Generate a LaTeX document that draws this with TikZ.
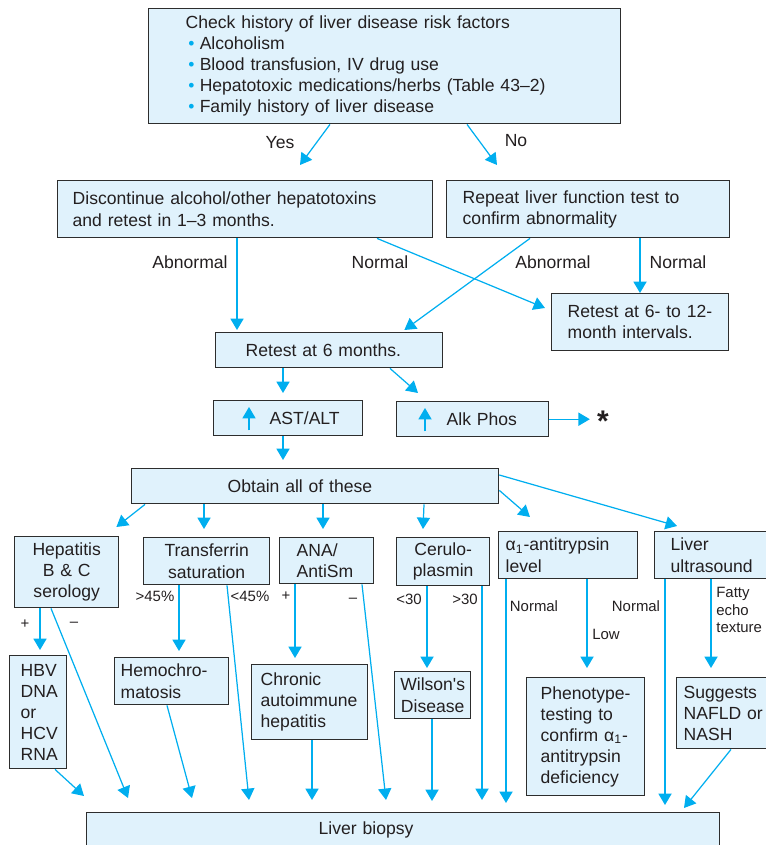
\documentclass[tikz,border=0pt]{standalone}
\usepackage{fontspec}
\setmainfont{Liberation Sans}
\usepackage{xcolor}
\usepackage{tikz}
\usetikzlibrary{arrows.meta,positioning,calc}

\definecolor{boxfill}{RGB}{224,242,252}
\definecolor{arrowblue}{RGB}{0,174,239}
\definecolor{boxline}{RGB}{45,45,45}
\definecolor{txt}{RGB}{35,31,32}
\newcommand{\bul}{\hspace*{1.5pt}\textcolor{arrowblue}{\textbullet}\hspace{3pt}}

\begin{document}
\begin{tikzpicture}[
    x=0.02cm, y=-0.02cm,
    box/.style={draw=boxline, fill=boxfill, line width=0.8pt, anchor=north west, inner ysep=0pt, text=txt, font=\fontsize{10}{12}\selectfont},
    lbox/.style={box, align=left},
    cbox/.style={box, align=center},
    lab/.style={inner sep=0pt, text=txt, font=\fontsize{10}{12}\selectfont},
    slab/.style={inner sep=0pt, text=txt, font=\fontsize{8.5}{10}\selectfont},
    arr/.style={draw=arrowblue, line width=0.7pt, -{Triangle[length=6.5pt,width=7.5pt]}}
]
\useasboundingbox (0,0) rectangle (766,845);

% Top
\node[lbox, minimum width=9.44cm, minimum height=2.3cm, text width=7.96cm, inner xsep=0.74cm] (top) at (148,8)
  {Check history of liver disease risk factors\\
   \bul Alcoholism\\
   \bul Blood transfusion, IV drug use\\
   \bul Hepatotoxic medications/herbs (Table 43--2)\\
   \bul Family history of liver disease};

% Second row
\node[lbox, minimum width=7.5cm, minimum height=1.14cm, text width=6.9cm, inner xsep=0.3cm] (disc) at (57,180)
  {Discontinue alcohol/other hepatotoxins\\and retest in 1--3 months.};
\node[lbox, minimum width=5.66cm, minimum height=1.14cm, text width=5.02cm, inner xsep=0.32cm] (rep) at (446,180)
  {Repeat liver function test to\\confirm abnormality};
\node[lbox, minimum width=3.54cm, minimum height=1.14cm, text width=2.9cm, inner xsep=0.32cm] (intv) at (551,293)
  {Retest~at~6-~to~12-\\month~intervals.};
\node[lbox, minimum width=4.54cm, minimum height=0.7cm, text width=3.34cm, inner xsep=0.6cm] (ret6) at (215,332)
  {Retest~at~6~months.};

% Enzymes
\node[lbox, minimum width=2.98cm, minimum height=0.7cm, text width=0.74cm, inner xsep=1.12cm] (ast) at (213,400) {AST/ALT};
\node[lbox, minimum width=3.04cm, minimum height=0.7cm, text width=1.04cm, inner xsep=1.0cm] (alk) at (396,401) {Alk~Phos};
\node[inner sep=0pt, text=txt, font=\bfseries\fontsize{17}{17}\selectfont] (star) at (603,421) {*};
\node[lbox, minimum width=7.34cm, minimum height=0.7cm, text width=3.5cm, inner xsep=1.92cm] (obt) at (131,468) {Obtain~all~of~these};

% Tests
\node[cbox, minimum width=2.08cm, minimum height=1.42cm, text width=1.8cm, inner xsep=0.14cm] (hep) at (14,536) {Hepatitis\\B~\&~C\\serology};
\node[cbox, minimum width=2.52cm, minimum height=0.94cm, text width=2.24cm, inner xsep=0.14cm] (trans) at (143,537) {Transferrin\\saturation};
\node[lbox, minimum width=1.88cm, minimum height=0.92cm, text width=1.2cm, inner xsep=0.34cm] (ana) at (279,537) {ANA/\\AntiSm};
\node[cbox, minimum width=1.86cm, minimum height=0.96cm, text width=1.66cm, inner xsep=0.1cm] (cer) at (396,537) {Cerulo-\\plasmin};
\node[lbox, minimum width=2.78cm, minimum height=0.94cm, text width=2.5cm, inner xsep=0.14cm] (alpha) at (498,531) {α\textsubscript{1}-antitrypsin\\level};
\node[lbox, minimum width=2.24cm, minimum height=0.94cm, text width=1.6cm, inner xsep=0.32cm] (us) at (654,531) {Liver\\ultrasound};

% Results
\node[lbox, minimum width=1.14cm, minimum height=2.26cm, text width=0.7cm, inner xsep=0.22cm] (hbv) at (9,655) {HBV\\DNA\\or\\HCV\\RNA};
\node[lbox, minimum width=2.28cm, minimum height=0.94cm, text width=2.04cm, inner xsep=0.12cm] (hemo) at (114,657) {Hemochro-\\matosis};
\node[lbox, minimum width=2.32cm, minimum height=1.5cm, text width=1.96cm, inner xsep=0.18cm] (chron) at (251,664) {Chronic\\autoimmune\\hepatitis};
\node[cbox, minimum width=1.52cm, minimum height=0.94cm, text width=1.36cm, inner xsep=0.08cm] (wil) at (394,671) {Wilson\textquotesingle s\\Disease};
\node[lbox, minimum width=2.36cm, minimum height=2.36cm, text width=1.8cm, inner xsep=0.28cm] (phen) at (526,677) {Phenotype-\\testing~to\\confirm~α\textsubscript{1}-\\antitrypsin\\deficiency};
\node[lbox, minimum width=1.8cm, minimum height=1.42cm, text width=1.52cm, inner xsep=0.14cm] (sug) at (676,677) {Suggests\\NAFLD~or\\NASH};
\node[lbox, minimum width=12.66cm, minimum height=0.68cm, text width=3.38cm, inner xsep=4.64cm] (bio) at (86,812) {Liver~biopsy};

% Labels
\node[lab] (lyes) at (280,143) {Yes};
\node[lab] (lno) at (516,141) {No};
\node[lab] (labn1) at (190,262) {Abnormal};
\node[lab] (lnor1) at (380,262) {Normal};
\node[lab] (labn2) at (553,262) {Abnormal};
\node[lab] (lnor2) at (678,262) {Normal};
\node[slab] (lgt45) at (155,596) {>45\%};
\node[slab] (llt45) at (250,596) {<45\%};
\node[slab] (lanap) at (286,596) {+};
\node[slab] (lanam) at (353,600) {--};
\node[slab] (lhepp) at (25,624) {+};
\node[slab] (lhepm) at (74,624) {--};
\node[slab] (llt30) at (409,599) {<30};
\node[slab] (lgt30) at (465,599) {>30};
\node[slab] (lnor3) at (534,606) {Normal};
\node[slab] (lnor4) at (636,606) {Normal};
\node[slab] (llow) at (606,634) {Low};
\node[slab, align=left, anchor=west, font=\fontsize{8.5}{10.2}\selectfont] (lfat) at (716,610) {Fatty\\echo\\texture};

% Connections
\draw[arr] ($(top.south west)+(182,0)$) -- ($(disc.north west)+(243,-15)$);
\draw[arr] ($(top.south west)+(319,0)$) -- ($(rep.north west)+(51,-15)$);
\draw[arr] ($(disc.south west)+(180,0)$) -- ($(ret6.north west)+(22,-2)$);
\draw[arr] ($(disc.south west)+(320,0)$) -- ($(intv.north west)+(-6,15)$);
\draw[arr] ($(rep.south west)+(84,0)$) -- ($(ret6.north east)+(-39,-2)$);
\draw[arr] ($(rep.south west)+(194,0)$) -- ($(intv.north west)+(89,0)$);
\draw[arr] ($(ret6.south west)+(68,0)$) -- ($(ast.north west)+(70,-7)$);
\draw[arr] ($(ret6.south west)+(175,0)$) -- ($(alk.north west)+(22,-8)$);
\draw[arr] ($(ast.south west)+(36,-6)$) -- ($(ast.north west)+(36,7)$);
\draw[arr] ($(alk.south west)+(29,-6)$) -- ($(alk.north west)+(29,7)$);
\draw[arr, shorten >=0.14cm] (alk.east) -- (alk.east -| star.west);
\draw[arr] ($(ast.south west)+(70,0)$) -- ($(obt.north west)+(152,-8)$);

\draw[arr] ($(obt.south west)+(14,0)$) -- ($(hep.north east)+(-3,-9)$);
\draw[arr] ($(obt.south west)+(73,0)$) -- ($(trans.north west)+(61,-8)$);
\draw[arr] ($(obt.south west)+(192,0)$) -- ($(ana.north west)+(44,-8)$);
\draw[arr] ($(obt.south west)+(293,0)$) -- ($(cer.north west)+(27,-8)$);
\draw[arr] ($(obt.south east)+(0,-14)$) -- ($(alpha.north west)+(32,-14)$);
\draw[arr] ($(obt.north east)+(0,7)$) -- ($(us.north west)+(23,-5)$);

\draw[arr] ($(hep.south west)+(26,0)$) -- ($(hbv.north west)+(31,-5)$);
\draw[arr] ($(hep.south west)+(37,0)$) -- ($(bio.north west)+(42,-14)$);
\draw[arr] ($(hbv.south west)+(46,0)$) -- ($(bio.north west)+(-2,-16)$);
\draw[arr] ($(trans.south west)+(36,0)$) -- ($(hemo.north west)+(65,-6)$);
\draw[arr] ($(trans.south west)+(84,0)$) -- ($(bio.north west)+(163,-12)$);
\draw[arr] ($(hemo.south west)+(53,0)$) -- ($(bio.north west)+(106,-14)$);
\draw[arr] ($(ana.south west)+(16,0)$) -- ($(chron.north west)+(44,-6)$);
\draw[arr] ($(ana.south west)+(83,0)$) -- ($(bio.north west)+(300,-12)$);
\draw[arr] ($(chron.south west)+(61,0)$) -- ($(bio.north west)+(226,-12)$);
\draw[arr] ($(cer.south west)+(31,0)$) -- ($(wil.north west)+(33,-3)$);
\draw[arr] ($(cer.south west)+(86,0)$) -- ($(bio.north west)+(396,-12)$);
\draw[arr] ($(wil.south west)+(38,0)$) -- ($(bio.north west)+(346,-11)$);
\draw[arr] ($(alpha.south west)+(8,0)$) -- ($(bio.north west)+(420,-9)$);
\draw[arr] ($(alpha.south west)+(89,0)$) -- ($(phen.north west)+(61,-9)$);
\draw[arr] ($(us.south west)+(11,0)$) -- ($(bio.north west)+(579,-7)$);
\draw[arr] ($(us.south west)+(57,0)$) -- ($(sug.north west)+(35,-9)$);
\draw[arr] ($(sug.south west)+(55,0)$) -- ($(bio.north west)+(598,-4)$);

\end{tikzpicture}
\end{document}
